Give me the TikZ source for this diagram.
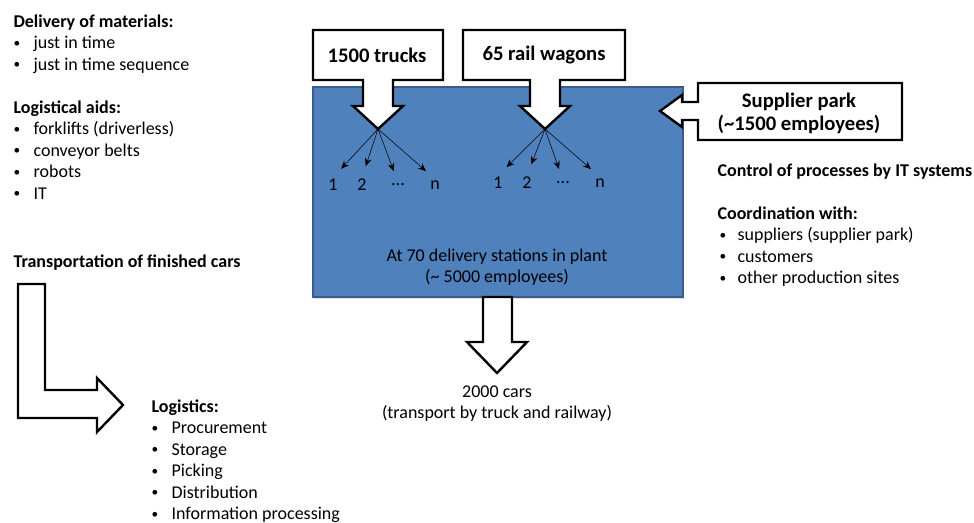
\documentclass[tikz,border=0pt]{standalone}
\usepackage{fontspec}
\setmainfont{Carlito}
\usetikzlibrary{arrows.meta,positioning,shadows}
\definecolor{plantblue}{RGB}{79,129,189}
\definecolor{plantedge}{RGB}{56,93,138}

\begin{document}
\begin{tikzpicture}[x=0.75pt,y=-0.75pt,
	every node/.style={font=\fontsize{13.5}{15.75}\selectfont,inner sep=1pt},
	head/.style={font=\fontsize{13.5}{15.75}\selectfont\bfseries,anchor=base west},
	item/.style={anchor=base west},
	dot/.style={font=\fontsize{10}{10}\selectfont,anchor=base west,yshift=0.8pt},
	boxtext/.style={font=\fontsize{15.5}{17.25}\selectfont\bfseries,align=center},
	callout/.style={draw=black,fill=white,line width=1.8pt,line join=miter},
	plantbox/.style={draw=plantedge,fill=plantblue,line width=1.2pt,
		minimum width=277.5pt,minimum height=157.5pt,
		drop shadow={opacity=0.25,shadow xshift=1pt,shadow yshift=-1.5pt}},
	fan/.style={-{Stealth[length=6pt,width=5pt]},thin,shorten >=9pt}]
	\useasboundingbox (0,0) rectangle (974,522);

	% plant
	\node[plantbox] (plant) at (498,192) {};
	\node[align=center] (stations) at (497,267) {At 70 delivery stations in plant\\(\textasciitilde\ 5000 employees)};

	% incoming trucks and wagons
	\draw[callout] (313,30) -- (443,30) -- (443,80) -- (393,80) -- (393,106) -- (403,106) -- (378,129)
		-- (353,106) -- (363,106) -- (363,80) -- (313,80) -- cycle;
	\node[boxtext] (trucks) at (377,55) {1500 trucks};
	\draw[callout] (463,30) -- (625,30) -- (625,80) -- (560,80) -- (560,106) -- (570,106) -- (545,129)
		-- (520,106) -- (530,106) -- (530,80) -- (463,80) -- cycle;
	\node[boxtext] (wagons) at (544,55) {65 rail wagons};
	\coordinate (tipT) at (378,129);
	\coordinate (tipW) at (545,129);

	\node (t1) at (333,185) {1};
	\node (t2) at (362,185) {2};
	\node (t3) at (398,185) {...};
	\node (t4) at (435,185) {n};
	\node (w1) at (498,183) {1};
	\node (w2) at (527,183) {2};
	\node (w3) at (563,183) {...};
	\node (w4) at (600,183) {n};
	\foreach \i in {1,...,4} {
		\draw[fan] (tipT) -- (t\i.north);
		\draw[fan] (tipW) -- (w\i.north);
	}

	% supplier park
	\draw[callout] (698,83) -- (902,83) -- (902,140) -- (698,140) -- (698,120) -- (682,120) -- (682,127)
		-- (660,111) -- (682,95) -- (682,102) -- (698,102) -- cycle;
	\node[boxtext] (park) at (799,113) {Supplier park\\(\textasciitilde1500 employees)};

	% outgoing cars
	\draw[callout] (483,297) -- (512,297) -- (512,342) -- (527,342) -- (497,373) -- (467,342) -- (483,342) -- cycle;
	\node[align=center] (cars) at (497,404) {2000 cars\\(transport by truck and railway)};

	% left lists
	\node[head] (delivery) at (12,27) {Delivery of materials:};
	\foreach \txt [count=\i] in {just in time,just in time sequence} {
		\node[item] (dm\i) at (32,{27+21.5*\i}) {\txt};
		\node[dot] (dmb\i) at (12,{27+21.5*\i}) {•};
	}
	\node[head] (aids) at (12,113) {Logistical aids:};
	\foreach \txt [count=\i] in {forklifts (driverless),conveyor belts,robots,IT} {
		\node[item] (la\i) at (32,{113+21.5*\i}) {\txt};
		\node[dot] (lab\i) at (12,{113+21.5*\i}) {•};
	}
	\node[head] (finished) at (12,267) {Transportation of finished cars};
	\draw[callout] (18,284) -- (45,284) -- (45,390) -- (97,390) -- (97,378) -- (123,405) -- (97,432)
		-- (97,418) -- (18,418) -- cycle;
	\node[head] (logistics) at (150,412) {Logistics:};
	\foreach \txt [count=\i] in {Procurement,Storage,Picking,Distribution,Information processing} {
		\node[item] (lg\i) at (170,{412+21.5*\i}) {\txt};
		\node[dot] (lgb\i) at (150,{412+21.5*\i}) {•};
	}

	% right lists
	\node[head] (control) at (716,176) {Control of processes by IT systems};
	\node[head] (coord) at (716,219) {Coordination with:};
	\foreach \txt [count=\i] in {suppliers (supplier park),customers,other production sites} {
		\node[item] (co\i) at (736,{219+21.5*\i}) {\txt};
		\node[dot] (cob\i) at (718,{219+21.5*\i}) {•};
	}
\end{tikzpicture}
\end{document}
